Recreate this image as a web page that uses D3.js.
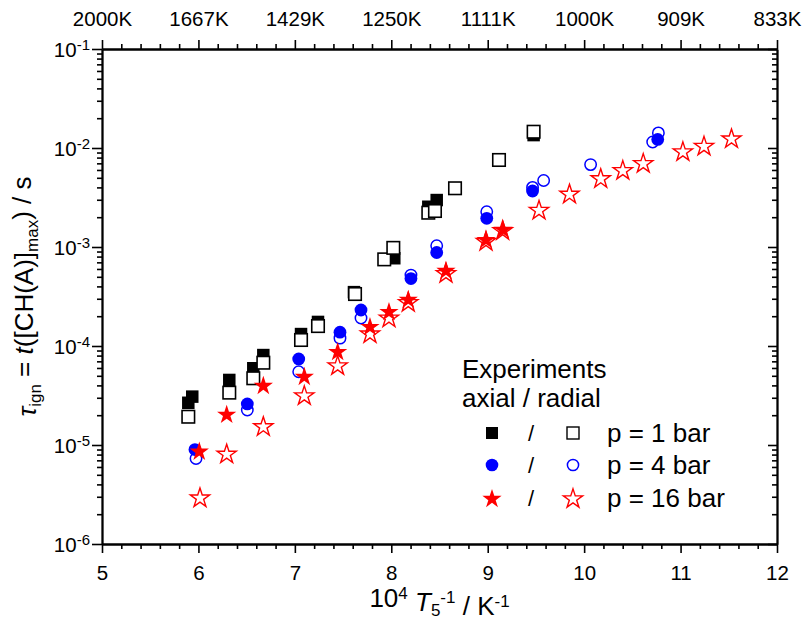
<!DOCTYPE html>
<html><head><meta charset="utf-8">
<script src="https://cdn.jsdelivr.net/npm/d3@7"></script>
<style>
body{margin:0;background:#fff;}
svg{font-family:"Liberation Sans",Arial,sans-serif;}
</style></head>
<body><div id="chart"></div>
<script>
// ---- data (x = 10^4/T5 [1/K], y = tau_ign [s]) ----
const sq1Filled = [[5.895,2.67e-5],[5.936,3.08e-5],[6.32,4.54e-5],[6.569,5.96e-5],[6.673,8.1e-5],[7.064,1.32e-4],[7.24,1.75e-4],[7.613,3.5e-4],[8.031,7.7e-4],[8.384,2.55e-3],[8.471,2.98e-3],[9.476,1.35e-2]];
const sq1Open = [[5.895,1.93e-5],[6.32,3.38e-5],[6.569,4.72e-5],[6.673,6.78e-5],[7.064,1.15e-4],[7.24,1.59e-4],[7.624,3.35e-4],[7.927,7.5e-4],[8.021,9.8e-4],[8.384,2.22e-3],[8.453,2.31e-3],[8.661,3.92e-3],[9.117,7.57e-3],[9.476,1.46e-2]];
const ci4Filled = [[5.964,9.0e-6],[6.507,2.6e-5],[7.04,7.4e-5],[7.468,1.38e-4],[7.686,2.31e-4],[8.204,4.8e-4],[8.471,8.8e-4],[8.99,1.95e-3],[9.465,3.68e-3],[10.763,1.22e-2]];
const ci4Open = [[5.975,7.3e-6],[6.507,2.26e-5],[7.04,5.5e-5],[7.468,1.2e-4],[7.686,1.92e-4],[8.204,5.2e-4],[8.471,1.03e-3],[8.99,2.27e-3],[9.465,4.0e-3],[9.58,4.7e-3],[10.067,6.8e-3],[10.711,1.15e-2],[10.77,1.42e-2]];
const st16Filled = [[6.009,8.75e-6],[6.293,2.06e-5],[6.673,4.04e-5],[7.098,4.98e-5],[7.444,8.9e-5],[7.779,1.59e-4],[7.976,2.25e-4],[8.176,3.0e-4],[8.567,5.86e-4],[8.982,1.2e-3],[9.159,1.52e-3]];
const st16Open = [[6.016,2.97e-6],[6.293,8.24e-6],[6.673,1.56e-5],[7.098,3.2e-5],[7.444,6.43e-5],[7.779,1.35e-4],[7.976,1.95e-4],[8.176,2.8e-4],[8.567,5.5e-4],[8.982,1.16e-3],[9.155,1.49e-3],[9.532,2.39e-3],[9.848,3.48e-3],[10.172,4.99e-3],[10.401,6.03e-3],[10.613,7.1e-3],[11.024,9.33e-3],[11.243,1.06e-2],[11.528,1.26e-2]];
const xTicks = [5,6,7,8,9,10,11,12];
const topTickLabels = ["2000K","1667K","1429K","1250K","1111K","1000K","909K","833K"];
const yTicks = [1e-1,1e-2,1e-3,1e-4,1e-5,1e-6];
const yTickExps = ["-1","-2","-3","-4","-5","-6"];
const legendLabels = ["p = 1 bar","p = 4 bar","p = 16 bar"];

const W=805,H=623;
const m={l:102,r:28,t:49,b:79};
const svg=d3.select("#chart").append("svg").attr("width",W).attr("height",H);
const x=d3.scaleLinear().domain([5,12]).range([m.l,W-m.r]);
const y=d3.scaleLog().domain([1e-6,1e-1]).range([H-m.b,m.t]);

const minorX=d3.range(5,12.001,0.2).filter(v=>Math.abs(v-Math.round(v))>1e-6);
const minorY=[];
for(let e=-6;e<-1;e++){for(let k=2;k<=9;k++)minorY.push(k*Math.pow(10,e));}

const AX="#000", TF=20.5;
function styleAxis(g){g.selectAll("path,line").attr("stroke",AX).attr("stroke-width",1.6);g.select(".domain").attr("stroke-width",1.8);}

// bottom
svg.append("g").attr("transform",`translate(0,${H-m.b})`).call(d3.axisBottom(x).tickValues(minorX).tickSize(5).tickFormat("").tickSizeOuter(0)).call(styleAxis);
svg.append("g").attr("transform",`translate(0,${H-m.b})`).call(d3.axisBottom(x).tickValues(xTicks).tickSize(9).tickSizeOuter(0).tickPadding(12).tickFormat(d=>d)).call(styleAxis)
  .call(g=>g.selectAll("text").attr("font-size",TF).attr("fill","#000").attr("font-family","Liberation Sans, Arial, sans-serif"));
// top
svg.append("g").attr("transform",`translate(0,${m.t})`).call(d3.axisTop(x).tickValues(minorX).tickSize(5).tickFormat("").tickSizeOuter(0)).call(styleAxis);
svg.append("g").attr("transform",`translate(0,${m.t})`).call(d3.axisTop(x).tickValues(xTicks).tickSize(9).tickSizeOuter(0).tickPadding(14).tickFormat((d,i)=>topTickLabels[i])).call(styleAxis)
  .call(g=>g.selectAll("text").attr("font-size",TF).attr("fill","#000").attr("font-family","Liberation Sans, Arial, sans-serif"));
// left
svg.append("g").attr("transform",`translate(${m.l},0)`).call(d3.axisLeft(y).tickValues(minorY).tickSize(5).tickFormat("").tickSizeOuter(0)).call(styleAxis);
svg.append("g").attr("transform",`translate(${m.l},0)`).call(d3.axisLeft(y).tickValues(yTicks).tickSize(10).tickSizeOuter(0).tickPadding(5).tickFormat("")).call(styleAxis)
  .call(g=>g.selectAll(".tick").each(function(d,i){
     const t=d3.select(this).append("text").attr("x",-12).attr("dy","0.35em").attr("text-anchor","end").attr("font-size",TF).attr("fill","#000");
     t.append("tspan").text("10");
     t.append("tspan").attr("dy","-0.45em").attr("font-size",15).text(yTickExps[i]);
  }));
// right (inward ticks)
svg.append("g").attr("transform",`translate(${W-m.r},0)`).call(d3.axisRight(y).tickValues(minorY).tickSize(-5).tickFormat("").tickSizeOuter(0)).call(styleAxis);
svg.append("g").attr("transform",`translate(${W-m.r},0)`).call(d3.axisRight(y).tickValues(yTicks).tickSize(-9).tickFormat("").tickSizeOuter(0)).call(styleAxis);

// markers
const S=12.5, R=6.4;
const starPath=d3.symbol().type(d3.symbolStar).size(115)();
const plot=svg.append("g");
function squares(data,filled){
  plot.append("g").selectAll("rect").data(data).join("rect")
   .attr("x",d=>x(d[0])-S/2).attr("y",d=>y(d[1])-S/2).attr("width",S).attr("height",S)
   .attr("fill",filled?"#000":"#fff").attr("stroke","#000").attr("stroke-width",filled?0:1.6);
}
function circles(data,filled){
  plot.append("g").selectAll("circle").data(data).join("circle")
   .attr("cx",d=>x(d[0])).attr("cy",d=>y(d[1])).attr("r",filled?R:R-0.7)
   .attr("fill",filled?"#0000ff":"#fff").attr("stroke","#0000ff").attr("stroke-width",filled?0:1.5);
}
function stars(data,filled){
  plot.append("g").selectAll("path").data(data).join("path")
   .attr("d",starPath).attr("transform",d=>`translate(${x(d[0])},${y(d[1])+1})`)
   .attr("fill",filled?"#ff0000":"#fff").attr("stroke","#ff0000").attr("stroke-width",filled?0:1.4).attr("stroke-linejoin","miter");
}
squares(sq1Filled,true); squares(sq1Open,false);
circles(ci4Open,false); circles(ci4Filled,true);
stars(st16Open,false); stars(st16Filled,true);

// legend
const lg=svg.append("g").attr("font-size",26).attr("fill","#000");
lg.append("text").attr("x",462).attr("y",378).text("Experiments");
lg.append("text").attr("x",462).attr("y",407).text("axial / radial");
const rowsY=[433,465,498];
const lx1=492,lslash=531,lx2=573,ltext=607;
// row 1
lg.append("rect").attr("x",lx1-6).attr("y",rowsY[0]-6).attr("width",12).attr("height",12).attr("fill","#000");
lg.append("rect").attr("x",lx2-6).attr("y",rowsY[0]-6).attr("width",12).attr("height",12).attr("fill","#fff").attr("stroke","#000").attr("stroke-width",1.4);
// row 2
lg.append("circle").attr("cx",lx1).attr("cy",rowsY[1]).attr("r",6.3).attr("fill","#0000ff");
lg.append("circle").attr("cx",lx2).attr("cy",rowsY[1]).attr("r",5.6).attr("fill","#fff").attr("stroke","#0000ff").attr("stroke-width",1.5);
// row 3
lg.append("path").attr("d",starPath).attr("transform",`translate(${lx1},${rowsY[2]+1})`).attr("fill","#ff0000");
lg.append("path").attr("d",starPath).attr("transform",`translate(${lx2},${rowsY[2]+1})`).attr("fill","#fff").attr("stroke","#ff0000").attr("stroke-width",1.4);
rowsY.forEach((ry,i)=>{
  lg.append("text").attr("x",lslash).attr("y",ry).attr("dy","0.35em").attr("text-anchor","middle").attr("font-size",22).text("/");
  lg.append("text").attr("x",ltext).attr("y",ry).attr("dy","0.35em").text(legendLabels[i]);
});

// axis titles
const xt=svg.append("text").attr("x",(m.l+W-m.r)/2).attr("y",607).attr("text-anchor","middle").attr("font-size",26).attr("fill","#000");
xt.append("tspan").text("10");
xt.append("tspan").attr("dy","-0.45em").attr("font-size",17).text("4");
xt.append("tspan").attr("dy","0.45em").text(" ");
xt.append("tspan").attr("font-style","italic").text("T");
xt.append("tspan").attr("dy","0.3em").attr("font-size",17).text("5");
xt.append("tspan").attr("dy","-0.75em").attr("font-size",17).text("-1");
xt.append("tspan").attr("dy","0.45em").text(" / K");
xt.append("tspan").attr("dy","-0.45em").attr("font-size",17).text("-1");

const yt=svg.append("text").attr("transform",`translate(36,${(m.t+H-m.b)/2}) rotate(-90)`).attr("text-anchor","middle").attr("font-size",26).attr("fill","#000");
yt.append("tspan").attr("font-style","italic").text("τ");
yt.append("tspan").attr("dy","0.3em").attr("font-size",17).text("ign");
yt.append("tspan").attr("dy","-0.3em").text(" = ");
yt.append("tspan").attr("font-style","italic").text("t");
yt.append("tspan").text("([CH(A)]");
yt.append("tspan").attr("dy","0.3em").attr("font-size",17).text("max");
yt.append("tspan").attr("dy","-0.3em").text(") / s");
</script></body></html>
